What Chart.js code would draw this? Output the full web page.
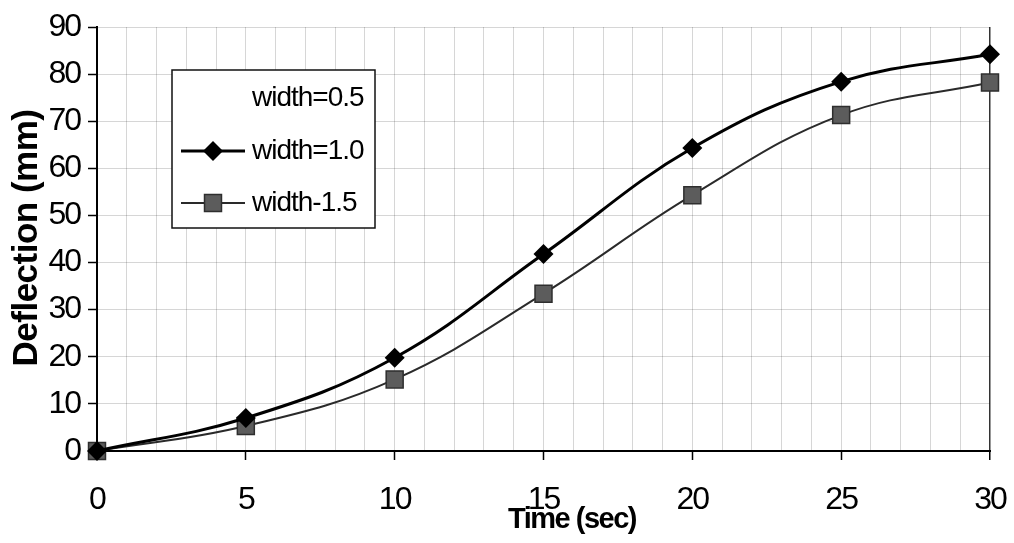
<!DOCTYPE html>
<html>
<head>
<meta charset="utf-8">
<script src="https://cdn.jsdelivr.net/npm/chart.js@4/dist/chart.umd.min.js"></script>
<style>
  html, body { margin: 0; padding: 0; background: #fff; }
  canvas { display: block; }
</style>
</head>
<body>
<canvas id="chart" width="1014" height="543"></canvas>
<script>
// Time samples (sec) and deflection readings (mm) for each width
const times = [0, 5, 10, 15, 20, 25, 30];
const width05 = [];
const width10 = [0, 7, 19.8, 41.8, 64.3, 78.4, 84.2];
const width15 = [0, 5.3, 15.2, 33.4, 54.3, 71.3, 78.2];
const seriesNames = ['width=0.5', 'width=1.0', 'width-1.5'];
const yTicks = [0, 10, 20, 30, 40, 50, 60, 70, 80, 90];
const xLabelStep = 5;

const FONT = "'Liberation Sans', Arial, sans-serif";

function toPoints(vals) {
  return vals.map((v, i) => ({ x: times[i], y: v }));
}

// Tight letter spacing for all canvas text
const spacingPlugin = {
  id: 'spacing',
  beforeDraw(chart) {
    chart.ctx.letterSpacing = '-2px';
  }
};

function drawMarker(ctx, style, x, y, r, fill, stroke, bw) {
  ctx.save();
  ctx.fillStyle = fill;
  ctx.strokeStyle = stroke;
  ctx.lineWidth = bw;
  ctx.beginPath();
  if (style === 'rectRot') {
    ctx.moveTo(x, y - r);
    ctx.lineTo(x + r, y);
    ctx.lineTo(x, y + r);
    ctx.lineTo(x - r, y);
    ctx.closePath();
  } else if (style === 'rect') {
    const s = r * Math.SQRT1_2;
    ctx.rect(x - s, y - s, 2 * s, 2 * s);
  }
  ctx.fill();
  if (bw > 0) ctx.stroke();
  ctx.restore();
}

// Axis titles and boxed legend
const decorPlugin = {
  id: 'decor',
  afterDraw(chart) {
    const ctx = chart.ctx;
    ctx.save();
    ctx.letterSpacing = '0px';
    ctx.fillStyle = '#000';
    // y axis title
    ctx.save();
    ctx.translate(27, 238);
    ctx.rotate(-Math.PI / 2);
    ctx.font = "bold 35px " + FONT;
    ctx.letterSpacing = '-0.5px';
    ctx.textAlign = 'center';
    ctx.textBaseline = 'middle';
    ctx.fillText('Deflection (mm)', 0, 0);
    ctx.restore();
    // x axis title
    ctx.font = "bold 29px " + FONT;
    ctx.letterSpacing = '-1.5px';
    ctx.textAlign = 'center';
    ctx.textBaseline = 'middle';
    ctx.fillText('Time (sec)', 572, 520);

    // legend box
    const bx = 172, by = 70, bw = 203, bh = 158;
    ctx.fillStyle = '#fff';
    ctx.fillRect(bx, by, bw, bh);
    ctx.strokeStyle = '#111';
    ctx.lineWidth = 1.5;
    ctx.strokeRect(bx, by, bw, bh);

    const rowsY = [98, 151, 203];
    chart.data.datasets.forEach((ds, i) => {
      const yy = rowsY[i];
      if (ds.legendVisible !== false) {
        ctx.strokeStyle = ds.borderColor;
        ctx.lineWidth = ds.borderWidth;
        ctx.beginPath();
        ctx.moveTo(181, yy);
        ctx.lineTo(245, yy);
        ctx.stroke();
        drawMarker(ctx, ds.pointStyle, 213, yy, ds.pointRadius,
          ds.pointBackgroundColor, ds.pointBorderColor, ds.pointBorderWidth);
      }
      ctx.fillStyle = '#000';
      ctx.font = "28px " + FONT;
      ctx.letterSpacing = '-1px';
      ctx.textAlign = 'left';
      ctx.textBaseline = 'middle';
      ctx.fillText(ds.label, 252, yy);
    });
    ctx.restore();
  }
};

new Chart(document.getElementById('chart'), {
  type: 'line',
  data: {
    datasets: [
      {
        label: seriesNames[0],
        data: toPoints(width05),
        borderColor: '#ffffff',
        backgroundColor: '#ffffff',
        borderWidth: 0,
        pointRadius: 0,
        legendVisible: false
      },
      {
        label: seriesNames[1],
        data: toPoints(width10),
        borderColor: '#000000',
        borderWidth: 3,
        tension: 0.4,
        pointStyle: 'rectRot',
        pointRadius: 10,
        pointBackgroundColor: '#000000',
        pointBorderColor: '#000000',
        pointBorderWidth: 0,
        clip: false
      },
      {
        label: seriesNames[2],
        data: toPoints(width15),
        borderColor: '#2a2a2a',
        borderWidth: 2,
        tension: 0.4,
        pointStyle: 'rect',
        pointRadius: 12,
        pointBackgroundColor: '#5c5c5c',
        pointBorderColor: '#2e2e2e',
        pointBorderWidth: 1.5,
        clip: false
      }
    ]
  },
  options: {
    responsive: false,
    animation: false,
    devicePixelRatio: 1,
    layout: { padding: { top: 27, right: 24, left: 0, bottom: 0 } },
    plugins: {
      legend: { display: false },
      tooltip: { enabled: false }
    },
    scales: {
      x: {
        type: 'linear',
        min: times[0],
        max: times[times.length - 1],
        afterFit(scale) {
          scale.height = 92;
          scale.paddingLeft = 0;
          scale.paddingRight = 0;
        },
        ticks: {
          stepSize: 1,
          autoSkip: false,
          maxRotation: 0,
          padding: 21,
          color: '#000',
          font: { family: FONT, size: 32 },
          callback: v => (v % xLabelStep === 0 ? String(v) : '')
        },
        grid: {
          color: c => (c.tick && c.tick.value === 30 ? '#333' : 'rgba(0,0,0,0.16)'),
          lineWidth: c => (c.tick && c.tick.value === 30 ? 1.5 : 1),
          tickLength: 9,
          tickColor: c => (c.tick && c.tick.value % xLabelStep === 0 ? '#000' : 'rgba(0,0,0,0)'),
          tickWidth: 1.5
        },
        border: { color: '#000', width: 2 }
      },
      y: {
        type: 'linear',
        min: yTicks[0],
        max: yTicks[yTicks.length - 1],
        afterFit(scale) {
          scale.width = 97;
          scale.paddingTop = 0;
          scale.paddingBottom = 0;
        },
        afterBuildTicks(scale) { scale.ticks = yTicks.map(v => ({ value: v })); },
        ticks: {
          padding: 8,
          color: '#000',
          font: { family: FONT, size: 32 }
        },
        grid: {
          color: 'rgba(0,0,0,0.16)',
          lineWidth: 1,
          tickLength: 9,
          tickColor: '#000',
          tickWidth: 1.5
        },
        border: { color: '#000', width: 2 }
      }
    }
  },
  plugins: [spacingPlugin, decorPlugin]
});
</script>
</body>
</html>
